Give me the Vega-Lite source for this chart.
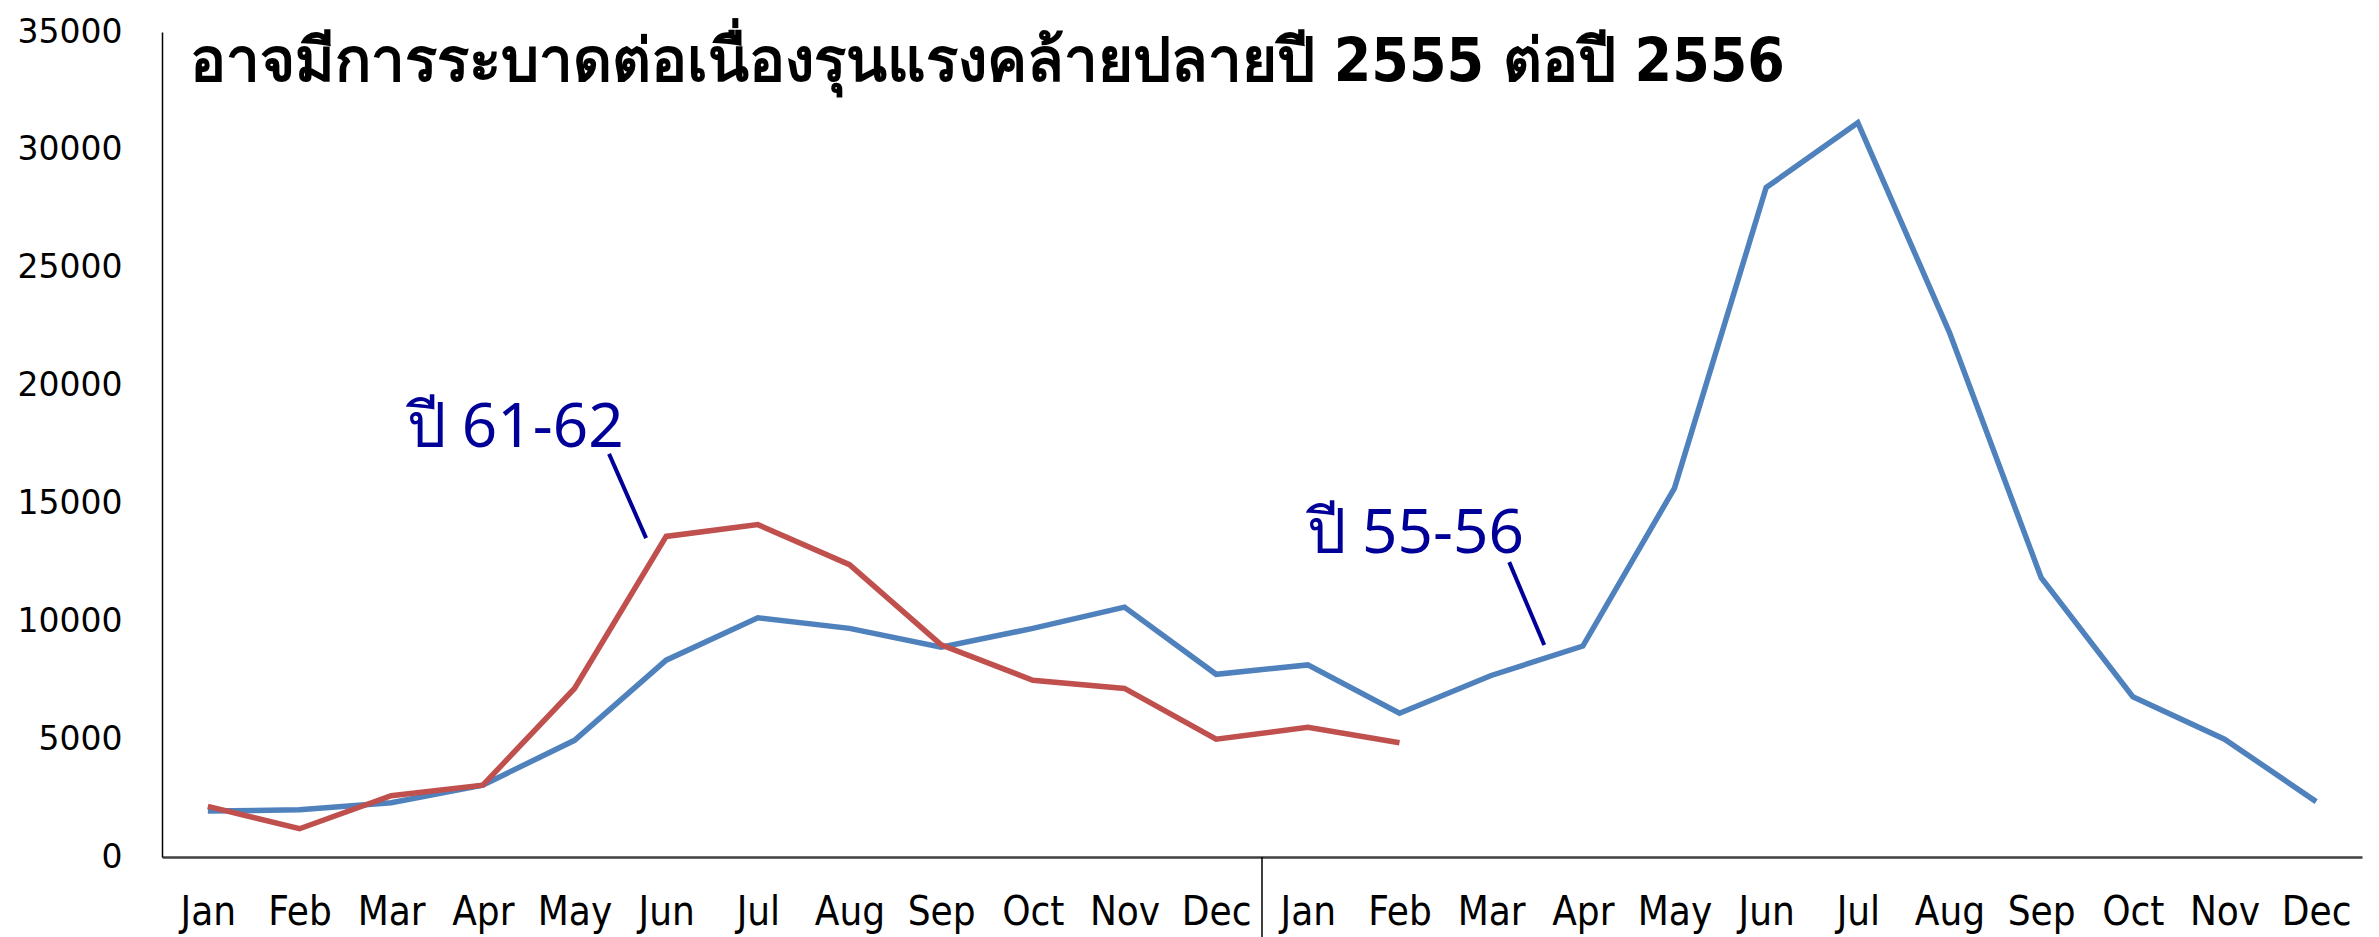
{
  "$schema": "https://vega.github.io/schema/vega-lite/v6.json",
  "width": 2200,
  "height": 825,
  "autosize": {"type": "none"},
  "padding": {"left": 162, "top": 32, "right": 17, "bottom": 80},
  "background": "white",
  "config": {"view": {"stroke": null}},
  "title": {
    "text": "อาจมีการระบาดต่อเนื่องรุนแรงคล้ายปลายปี 2555 ต่อปี 2556",
    "anchor": "start",
    "frame": "group",
    "orient": "top",
    "font": "DejaVu Sans Condensed, Lato, sans-serif",
    "fontSize": 60,
    "fontWeight": "bold",
    "color": "black",
    "baseline": "alphabetic",
    "offset": -125,
    "dx": 28
  },
  "datasets": {
    "s5556": [
      {"n": 1, "month": "Jan", "v": 1950},
      {"n": 2, "month": "Feb", "v": 2000},
      {"n": 3, "month": "Mar", "v": 2300},
      {"n": 4, "month": "Apr", "v": 3050},
      {"n": 5, "month": "May", "v": 4950},
      {"n": 6, "month": "Jun", "v": 8350},
      {"n": 7, "month": "Jul", "v": 10150},
      {"n": 8, "month": "Aug", "v": 9700},
      {"n": 9, "month": "Sep", "v": 8900},
      {"n": 10, "month": "Oct", "v": 9700},
      {"n": 11, "month": "Nov", "v": 10600},
      {"n": 12, "month": "Dec", "v": 7750},
      {"n": 13, "month": "Jan", "v": 8150},
      {"n": 14, "month": "Feb", "v": 6100},
      {"n": 15, "month": "Mar", "v": 7700},
      {"n": 16, "month": "Apr", "v": 8950},
      {"n": 17, "month": "May", "v": 15650},
      {"n": 18, "month": "Jun", "v": 28400},
      {"n": 19, "month": "Jul", "v": 31150},
      {"n": 20, "month": "Aug", "v": 22250},
      {"n": 21, "month": "Sep", "v": 11850},
      {"n": 22, "month": "Oct", "v": 6800},
      {"n": 23, "month": "Nov", "v": 5000},
      {"n": 24, "month": "Dec", "v": 2350}
    ],
    "s6162": [
      {"n": 1, "month": "Jan", "v": 2150},
      {"n": 2, "month": "Feb", "v": 1200},
      {"n": 3, "month": "Mar", "v": 2600},
      {"n": 4, "month": "Apr", "v": 3050},
      {"n": 5, "month": "May", "v": 7150},
      {"n": 6, "month": "Jun", "v": 13600},
      {"n": 7, "month": "Jul", "v": 14100},
      {"n": 8, "month": "Aug", "v": 12400},
      {"n": 9, "month": "Sep", "v": 9000},
      {"n": 10, "month": "Oct", "v": 7500},
      {"n": 11, "month": "Nov", "v": 7150},
      {"n": 12, "month": "Dec", "v": 5000},
      {"n": 13, "month": "Jan", "v": 5500},
      {"n": 14, "month": "Feb", "v": 4850}
    ],
    "labels": [
      {"label": "ปี 61-62", "n": 3.17, "v": 17390},
      {"label": "ปี 55-56", "n": 12.99, "v": 12900}
    ],
    "leaders": [
      {"n": 5.377, "v": 17100, "n2": 5.781, "v2": 13530},
      {"n": 15.197, "v": 12510, "n2": 15.579, "v2": 8990}
    ],
    "divider": [
      {"n": 12.5, "v": 0, "v2": -3400}
    ]
  },
  "encoding": {
    "x": {
      "field": "n",
      "type": "quantitative",
      "scale": {"domain": [0.5, 24.5], "nice": false, "zero": false},
      "axis": {
        "title": null,
        "values": [1,2,3,4,5,6,7,8,9,10,11,12,13,14,15,16,17,18,19,20,21,22,23,24],
        "labelExpr": "['Dec','Jan','Feb','Mar','Apr','May','Jun','Jul','Aug','Sep','Oct','Nov'][datum.value % 12]",
        "grid": false,
        "ticks": false,
        "labelFont": "DejaVu Sans Condensed, Lato, sans-serif",
        "labelFontSize": 40,
        "labelColor": "black",
        "labelPadding": 35,
        "labelFlush": false,
        "labelOverlap": false,
        "domainColor": "#404040",
        "domainWidth": 2.5
      }
    },
    "y": {
      "field": "v",
      "type": "quantitative",
      "scale": {"domain": [0, 35000], "nice": false, "zero": false},
      "axis": {
        "title": null,
        "values": [0, 5000, 10000, 15000, 20000, 25000, 30000, 35000],
        "format": "d",
        "grid": false,
        "ticks": false,
        "labelFont": "DejaVu Sans",
        "labelFontSize": 33,
        "labelColor": "black",
        "labelPadding": 40,
        "labelFlush": false,
        "labelOverlap": false,
        "domainColor": "black",
        "domainWidth": 1.5
      }
    }
  },
  "layer": [
    {
      "data": {"name": "divider"},
      "mark": {"type": "rule", "color": "black", "strokeWidth": 1.5},
      "encoding": {"y2": {"field": "v2"}}
    },
    {
      "data": {"name": "s5556"},
      "mark": {"type": "line", "color": "#4F81BD", "strokeWidth": 5.5}
    },
    {
      "data": {"name": "s6162"},
      "mark": {"type": "line", "color": "#C0504D", "strokeWidth": 5.5}
    },
    {
      "data": {"name": "leaders"},
      "mark": {"type": "rule", "color": "#000099", "strokeWidth": 4},
      "encoding": {"x2": {"field": "n2"}, "y2": {"field": "v2"}}
    },
    {
      "data": {"name": "labels"},
      "mark": {"type": "text", "align": "left", "baseline": "alphabetic", "font": "Noto Sans", "fontSize": 62, "color": "#000099"},
      "encoding": {"text": {"field": "label"}}
    }
  ]
}
